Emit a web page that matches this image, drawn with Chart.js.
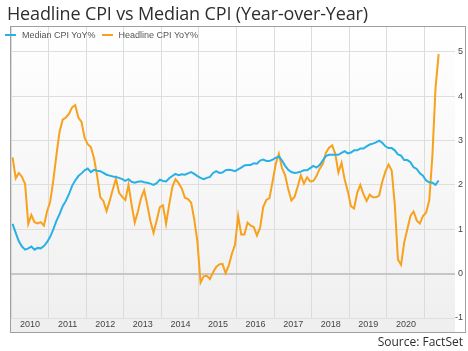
<!DOCTYPE html>
<html>
<head>
<meta charset="utf-8">
<script src="https://cdn.jsdelivr.net/npm/chart.js@4.4.1/dist/chart.umd.min.js"></script>
<style>
  html, body { margin: 0; padding: 0; background: #fff; }
  #wrap { position: relative; width: 468px; height: 351px; overflow: hidden; }
  #c { position: absolute; left: 0; top: 0; }
  #title { position: absolute; left: 7px; top: 0px; font-family: "Open Sans", sans-serif; font-size: 18px; color: #2e2e2e; white-space: nowrap; line-height: 26px; letter-spacing: -0.15px; }
  #source { position: absolute; right: 5px; top: 333px; font-family: "Open Sans", sans-serif; font-size: 12px; color: #2e2e2e; white-space: nowrap; line-height: 17px; }
  #legend { position: absolute; left: 5px; top: 29px; font-family: "Liberation Sans", Arial, sans-serif; font-size: 9px; color: #555; white-space: nowrap; line-height: 12px; }
  #legend span.sw { display: inline-block; width: 11px; height: 2px; vertical-align: middle; margin-right: 6px; position: relative; top: -1px; }
  #legend span.item { margin-right: 6px; }
</style>
</head>
<body>
<div id="wrap">
  <canvas id="c" width="468" height="351"></canvas>
  <div id="title">Headline CPI vs Median CPI (Year-over-Year)</div>
  <div id="legend"></div>
  <div id="source">Source: FactSet</div>
</div>
<script>
// ---- data (monthly, Jan 2010 .. May 2021) ----
const startYear = 2010;
const seriesNames = ["Median CPI YoY%", "Headline CPI YoY%"];
const seriesColors = ["#29b0e6", "#f7a11d"];
const yearLabels = [2010, 2011, 2012, 2013, 2014, 2015, 2016, 2017, 2018, 2019, 2020];
const yearGrid = [2010, 2011, 2012, 2013, 2014, 2015, 2016, 2017, 2018, 2019, 2020, 2021];
const yTicks = [-1, 0, 1, 2, 3, 4, 5];

const medianCPI = [
  1.12, 0.92, 0.73, 0.61, 0.54, 0.57, 0.61, 0.54, 0.58, 0.57, 0.62, 0.71,
  0.83, 1.00, 1.19, 1.34, 1.52, 1.64, 1.79, 1.98, 2.10, 2.20, 2.26, 2.33,
  2.37, 2.29, 2.34, 2.32, 2.31, 2.27, 2.23, 2.21, 2.19, 2.18, 2.16, 2.13,
  2.09, 2.13, 2.07, 2.05, 2.07, 2.08, 2.06, 2.05, 2.03, 2.00, 2.04, 2.12,
  2.09, 2.08, 2.15, 2.20, 2.25, 2.22, 2.24, 2.23, 2.26, 2.29, 2.25, 2.20,
  2.16, 2.13, 2.16, 2.18, 2.27, 2.31, 2.27, 2.28, 2.33, 2.34, 2.33, 2.31,
  2.35, 2.39, 2.44, 2.45, 2.45, 2.49, 2.48, 2.55, 2.57, 2.54, 2.54, 2.57,
  2.61, 2.64, 2.55, 2.43, 2.34, 2.29, 2.27, 2.28, 2.30, 2.33, 2.33, 2.38,
  2.43, 2.39, 2.45, 2.55, 2.65, 2.68, 2.68, 2.68, 2.68, 2.72, 2.76, 2.71,
  2.73, 2.78, 2.78, 2.82, 2.82, 2.87, 2.91, 2.93, 2.96, 3.00, 2.95, 2.87,
  2.83, 2.83, 2.78, 2.69, 2.66, 2.56, 2.56, 2.51, 2.40, 2.36, 2.26, 2.21,
  2.10, 2.06, 2.05, 2.00, 2.10
];

const headlineCPI = [
  2.62, 2.15, 2.27, 2.18, 2.02, 1.12, 1.32, 1.16, 1.13, 1.16, 1.08, 1.40,
  1.62, 2.10, 2.68, 3.20, 3.47, 3.52, 3.60, 3.75, 3.80, 3.52, 3.42, 3.06,
  2.92, 2.85, 2.60, 2.20, 1.72, 1.64, 1.41, 1.64, 1.90, 2.14, 1.82, 1.73,
  1.66, 2.00, 1.55, 1.15, 1.40, 1.70, 1.88, 1.55, 1.18, 0.92, 1.20, 1.50,
  1.54, 1.12, 1.56, 1.95, 2.13, 2.04, 1.92, 1.71, 1.68, 1.60, 1.22, 0.72,
  -0.20, -0.06, -0.05, -0.12, 0.03, 0.15, 0.21, 0.22, 0.01, 0.18, 0.45, 0.65,
  1.30, 0.88, 0.88, 1.15, 1.08, 1.05, 0.86, 1.03, 1.50, 1.66, 1.70, 2.08,
  2.47, 2.70, 2.38, 2.22, 1.90, 1.65, 1.73, 1.96, 2.22, 2.03, 2.17, 2.08,
  2.09, 2.20, 2.36, 2.47, 2.72, 2.84, 2.89, 2.70, 2.28, 2.50, 2.12, 1.86,
  1.52, 1.47, 1.82, 2.00, 1.79, 1.64, 1.78, 1.72, 1.72, 1.76, 2.07, 2.30,
  2.46, 2.33, 1.56, 0.32, 0.20, 0.70, 1.00, 1.30, 1.40, 1.20, 1.13, 1.30,
  1.38, 1.65, 2.65, 4.18, 4.95
];

// month index -> position on the time axis (mid-month)
const toPoints = arr => arr.map((v, i) => ({ x: startYear + (i + 0.5) / 12, y: v }));

// legend (HTML text)
const legendEl = document.getElementById('legend');
legendEl.innerHTML = seriesNames.map((n, i) =>
  `<span class="item"><span class="sw" style="background:${seriesColors[i]}"></span>${n}</span>`).join('');

const bgPlugin = {
  id: 'bg',
  beforeDraw(chart) {
    const { ctx, chartArea: a } = chart;
    const bottom = chart.scales.x.bottom;
    const g = ctx.createLinearGradient(0, a.top, 0, bottom);
    g.addColorStop(0, '#ffffff');
    g.addColorStop(1, '#efefef');
    ctx.save();
    ctx.fillStyle = g;
    ctx.fillRect(a.left, a.top, a.right - a.left, bottom - a.top);
    ctx.restore();
  },
  afterDraw(chart) {
    const { ctx, chartArea: a } = chart;
    const bottom = chart.scales.x.bottom;
    ctx.save();
    ctx.strokeStyle = '#a0a0a0';
    ctx.lineWidth = 1;
    ctx.strokeRect(a.left - 0.5, a.top - 0.5, 466 - a.left, bottom - a.top + 1);
    ctx.restore();
  }
};

new Chart(document.getElementById('c'), {
  type: 'line',
  data: {
    datasets: [
      { label: seriesNames[0], data: toPoints(medianCPI), borderColor: seriesColors[0], borderWidth: 2, pointRadius: 0, tension: 0, fill: false },
      { label: seriesNames[1], data: toPoints(headlineCPI), borderColor: seriesColors[1], borderWidth: 2, pointRadius: 0, tension: 0, fill: false }
    ]
  },
  plugins: [bgPlugin],
  options: {
    responsive: false,
    animation: false,
    layout: { padding: { left: 3, top: 27, right: 5, bottom: 19 } },
    plugins: { legend: { display: false }, title: { display: false }, tooltip: { enabled: false } },
    scales: {
      x: {
        type: 'linear',
        min: 2010,
        max: 2021.81,
        afterBuildTicks: s => { s.ticks = yearGrid.map(v => ({ value: v })); },
        afterFit: s => { s.height = 14; },
        grid: { color: '#dcdcdc', drawTicks: false, lineWidth: 1 },
        border: { display: false },
        ticks: {
          autoSkip: false,
          maxRotation: 0,
          padding: 1,
          labelOffset: 19,
          color: '#444',
          font: { family: 'Liberation Sans, Arial, sans-serif', size: 9 },
          callback: v => (yearLabels.includes(v) ? String(v) : '')
        }
      },
      y: {
        position: 'right',
        min: -1,
        max: 5.56,
        afterBuildTicks: s => { s.ticks = yTicks.map(v => ({ value: v })); },
        afterFit: s => { s.width = 8; },
        grid: {
          drawTicks: false,
          color: ctx => (ctx.tick && ctx.tick.value === 0 ? '#c6c6c6' : '#dedede'),
          lineWidth: ctx => (ctx.tick && ctx.tick.value === 0 ? 2 : 1)
        },
        border: { display: false },
        ticks: {
          crossAlign: 'far',
          padding: 0,
          color: '#444',
          font: { family: 'Liberation Sans, Arial, sans-serif', size: 9 }
        }
      }
    }
  }
});
</script>
</body>
</html>
